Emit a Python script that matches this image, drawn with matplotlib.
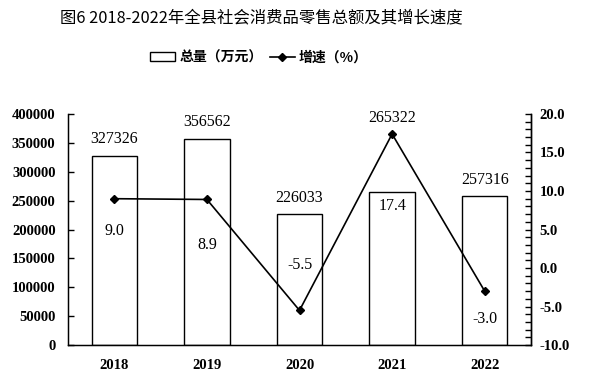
import matplotlib.pyplot as plt
import matplotlib.lines as mlines
import matplotlib.patches as mpatches
from matplotlib.ticker import MultipleLocator

plt.rcParams['font.family'] = ['Noto Sans CJK SC', 'DejaVu Sans']

years = ["2018", "2019", "2020", "2021", "2022"]
totals = [327326, 356562, 226033, 265322, 257316]
growth = [9.0, 8.9, -5.5, 17.4, -3.0]
growth_labels = ["9.0", "8.9", "-5.5", "17.4", "-3.0"]

NUM_FONT = "Liberation Serif"
# label offsets in points (above bar top / relative to line point)
total_offsets = [12, 12, 12, 53, 12]
growth_offsets = [-23, -33, 33, -52, -20]

fig = plt.figure(figsize=(5.89, 3.89), dpi=100)
ax = fig.add_axes([0.1155, 0.113, 0.7860, 0.594])
x = list(range(len(years)))

ax.bar(x, totals, width=0.49, facecolor="white", edgecolor="black", linewidth=1.0, zorder=2)
ax.set_xlim(-0.5, len(years) - 0.5)
ax.set_ylim(0, 400000)
ax.yaxis.set_major_locator(MultipleLocator(50000))
ax.tick_params(axis="y", direction="in", length=4, width=1, labelsize=10.5, pad=9)
ax.tick_params(axis="x", length=0, labelsize=10.5, pad=10)
ax.set_xticks(x)
ax.set_xticklabels(years)
for lab in ax.get_xticklabels() + ax.get_yticklabels():
    lab.set_fontfamily(NUM_FONT)
    lab.set_fontweight("bold")
ax.spines["top"].set_visible(False)
for s in ["left", "bottom", "right"]:
    ax.spines[s].set_linewidth(1.0)

for xi, v, off in zip(x, totals, total_offsets):
    ax.annotate(f"{v}", (xi, v), xytext=(0, off), textcoords="offset points",
                ha="center", va="center", fontsize=11.5, fontfamily=NUM_FONT)

ax2 = ax.twinx()
ax2.set_ylim(-10, 20)
ax2.yaxis.set_minor_locator(MultipleLocator(1))
ax2.tick_params(axis="y", which="both", direction="in", length=4, width=1, labelsize=10.5, pad=6)
ax2.set_yticks([-10, -5, 0, 5, 10, 15, 20])
ax2.set_yticklabels([f"{t:.1f}" for t in [-10, -5, 0, 5, 10, 15, 20]])
for lab in ax2.get_yticklabels():
    lab.set_fontfamily(NUM_FONT)
    lab.set_fontweight("bold")
ax2.spines["top"].set_visible(False)
ax2.spines["right"].set_linewidth(1.0)

ax2.plot(x, growth, color="black", lw=1.2, marker="D", ms=4.5, zorder=3)
for xi, v, t, off in zip(x, growth, growth_labels, growth_offsets):
    ax2.annotate(t, (xi, v), xytext=(0, off), textcoords="offset points",
                 ha="center", va="center", fontsize=11.5, fontfamily=NUM_FONT)

fig.text(0.444, 0.955, "图6 2018-2022年全县社会消费品零售总额及其增长速度",
         ha="center", va="center", fontsize=11.8)

h_bar = mpatches.Patch(facecolor="white", edgecolor="black", linewidth=1.0)
h_line = mlines.Line2D([], [], color="black", lw=1.2, marker="D", ms=4.5)
fig.legend([h_bar, h_line], ["总量（万元）", "增速（%）"], loc="center",
           bbox_to_anchor=(0.44, 0.852), ncol=2, frameon=False,
           handlelength=1.8, handleheight=0.6, columnspacing=0.5, handletextpad=0.3,
           prop={"weight": "bold", "size": 10})

fig.savefig("out.png", dpi=100)
